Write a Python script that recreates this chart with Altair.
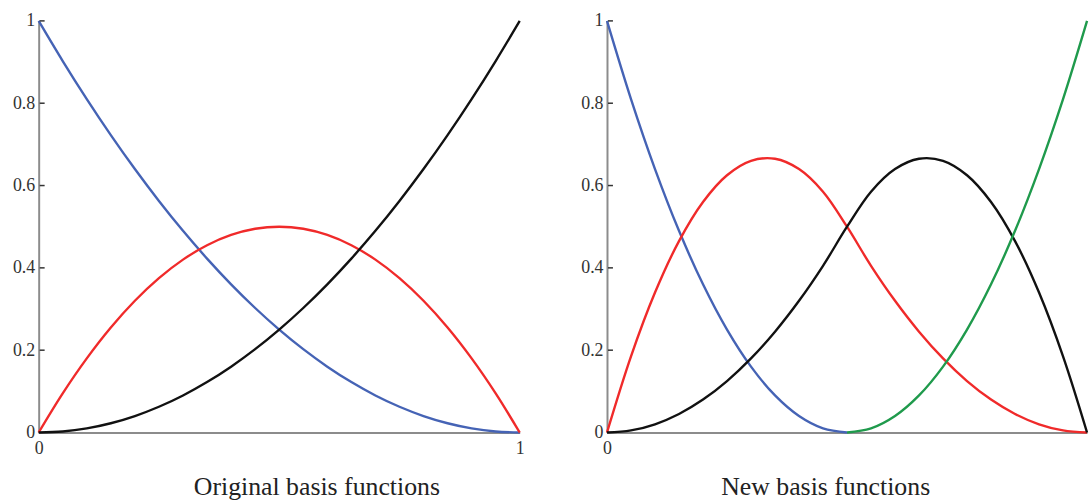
import altair as alt
import pandas as pd

# sample positions t = 0, 0.05, ..., 1
t = [0.0, 0.05, 0.1, 0.15, 0.2, 0.25, 0.3, 0.35, 0.4, 0.45, 0.5,
     0.55, 0.6, 0.65, 0.7, 0.75, 0.8, 0.85, 0.9, 0.95, 1.0]

# Original basis functions
orig_blue = [1, 0.9025, 0.81, 0.7225, 0.64, 0.5625, 0.49, 0.4225, 0.36, 0.3025, 0.25,
             0.2025, 0.16, 0.1225, 0.09, 0.0625, 0.04, 0.0225, 0.01, 0.0025, 0]
orig_red = [0, 0.095, 0.18, 0.255, 0.32, 0.375, 0.42, 0.455, 0.48, 0.495, 0.5,
            0.495, 0.48, 0.455, 0.42, 0.375, 0.32, 0.255, 0.18, 0.095, 0]
orig_black = [0, 0.0025, 0.01, 0.0225, 0.04, 0.0625, 0.09, 0.1225, 0.16, 0.2025, 0.25,
              0.3025, 0.36, 0.4225, 0.49, 0.5625, 0.64, 0.7225, 0.81, 0.9025, 1]

# New basis functions
new_t_first = t[:11]
new_t_second = t[10:]
new_blue = [1, 0.81, 0.64, 0.49, 0.36, 0.25, 0.16, 0.09, 0.04, 0.01, 0]
new_red = [0, 0.185, 0.34, 0.465, 0.56, 0.625, 0.66, 0.665, 0.64, 0.585, 0.5,
           0.405, 0.32, 0.245, 0.18, 0.125, 0.08, 0.045, 0.02, 0.005, 0]
new_black = [0, 0.005, 0.02, 0.045, 0.08, 0.125, 0.18, 0.245, 0.32, 0.405, 0.5,
             0.585, 0.64, 0.665, 0.66, 0.625, 0.56, 0.465, 0.34, 0.185, 0]
new_green = [0, 0.01, 0.04, 0.09, 0.16, 0.25, 0.36, 0.49, 0.64, 0.81, 1]

y_ticks = [0, 0.2, 0.4, 0.6, 0.8, 1]
x_ticks = [0, 1]

series_names = ["blue", "red", "black", "green"]
series_colors = ["#4563b5", "#f02a2a", "#111111", "#1f9a4c"]


def frame(xs, ys, name):
    return pd.DataFrame({"t": xs, "v": ys, "s": name})


left_df = pd.concat([
    frame(t, orig_blue, "blue"),
    frame(t, orig_red, "red"),
    frame(t, orig_black, "black"),
])
right_df = pd.concat([
    frame(new_t_first, new_blue, "blue"),
    frame(t, new_red, "red"),
    frame(t, new_black, "black"),
    frame(new_t_second, new_green, "green"),
])
tick_df = pd.DataFrame({"v": y_ticks[1:]})

FONT = "Liberation Serif"
H = 415


def panel(df, title, title_x, hide_last, width):
    label_expr = "datum.value == 1 ? '' : datum.label" if hide_last else "datum.label"
    xs = alt.Scale(domain=[0, 1], nice=False, zero=False)
    ys = alt.Scale(domain=[0, 1], nice=False)
    lines = alt.Chart(df).mark_line(strokeWidth=2.4, interpolate="catmull-rom").encode(
        x=alt.X("t:Q", scale=xs,
                axis=alt.Axis(values=x_ticks, format="~g", labelExpr=label_expr,
                              labelFont=FONT, labelFontSize=18, labelColor="#333333",
                              title=title, titleX=title_x, titleY=63,
                              titleAlign="center", titleBaseline="alphabetic",
                              titleFont=FONT, titleFontSize=26, titleFontWeight="normal",
                              titleColor="#222222", labelPadding=7, grid=False,
                              ticks=False, labelFlush=False,
                              domainColor="#8c8c8c", domainWidth=2)),
        y=alt.Y("v:Q", scale=ys,
                axis=alt.Axis(values=y_ticks, format=".1~f", title=None, grid=False,
                              labelFont=FONT, labelFontSize=18, labelColor="#333333",
                              ticks=False, labelPadding=4, labelFlush=False,
                              domainColor="#8c8c8c", domainWidth=2)),
        color=alt.Color("s:N", scale=alt.Scale(domain=series_names, range=series_colors),
                        legend=None),
    )
    ticks = alt.Chart(tick_df).mark_rule(color="#333333", strokeWidth=1.5).encode(
        y=alt.Y("v:Q", scale=ys),
        x=alt.value(1),
        x2=alt.value(6),
    )
    return alt.layer(lines, ticks).properties(width=width, height=H)


left = panel(left_df, "Original basis functions", 280, False, 485)
right = panel(right_df, "New basis functions", 220, True, 484)

chart = alt.hconcat(left, right, spacing=56).properties(
    padding={"left": 12, "top": 10, "right": 0, "bottom": 0}
).configure_view(stroke=None)

chart.save("out.html", embed_options={"renderer": "svg", "actions": False})
